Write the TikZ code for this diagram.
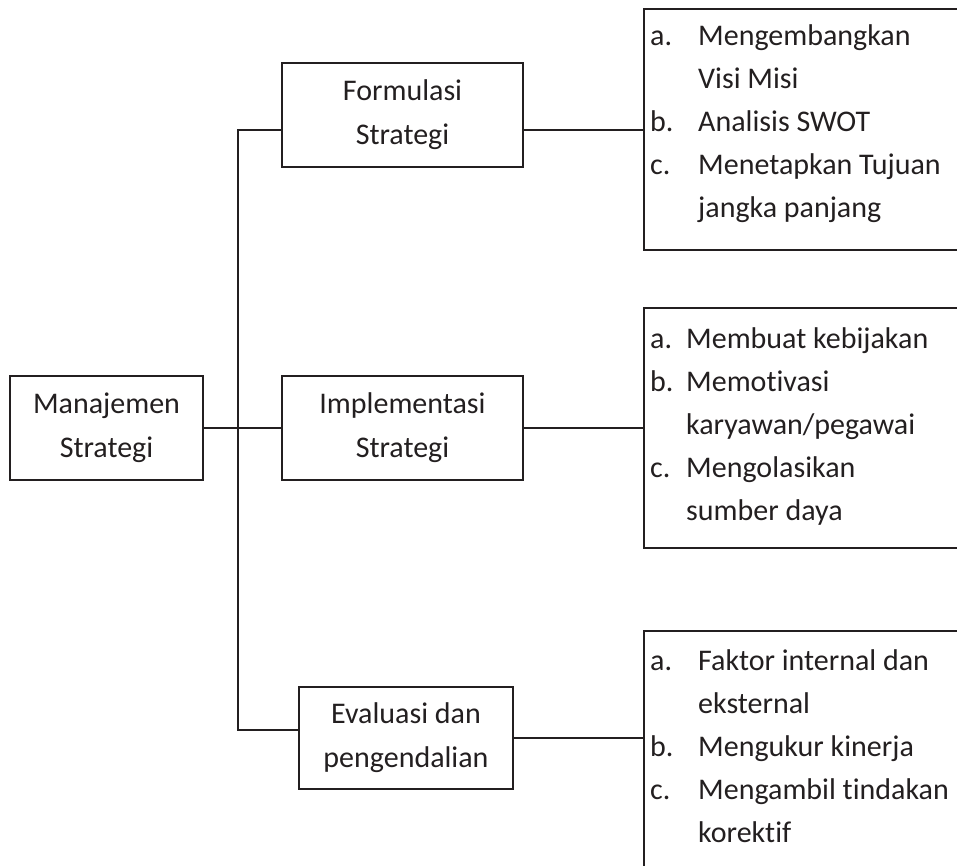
\documentclass[tikz,border=0pt]{standalone}
\usepackage{fontspec}
\setmainfont[Ligatures=NoCommon]{Carlito}
\definecolor{ink}{RGB}{35,31,32}
\begin{document}
\begin{tikzpicture}[x=1pt,y=-1pt,
  every node/.style={text=ink},
  box/.style={draw=ink, line width=1.6pt, rectangle, inner sep=0pt, align=center,
     font=\fontsize{30}{44}\selectfont},
  listbox/.style={draw=ink, line width=1.6pt, rectangle, inner sep=0pt, anchor=north west},
  listtext/.style={anchor=base west, inner sep=0pt, font=\fontsize{30}{43}\selectfont},
  conn/.style={draw=ink, line width=1.6pt}]
\useasboundingbox (0,0) rectangle (957,866);
\clip (0,0) rectangle (957,866);

\node[box, minimum width=193pt, minimum height=104pt] (ms) at (106.5,428) {Manajemen\\Strategi};
\node[box, minimum width=241pt, minimum height=104pt] (form) at (402.5,115) {Formulasi\\Strategi};
\node[box, minimum width=241pt, minimum height=104pt] (impl) at (402.5,428) {Implementasi\\Strategi};
\node[box, minimum width=214pt, minimum height=102pt] (eval) at (406,738) {Evaluasi dan\\pengendalian};

\node[listbox, minimum width=340pt, minimum height=241pt] (rtop) at (643,8) {};
\node[listbox, minimum width=340pt, minimum height=240pt] (rmid) at (643,307) {};
\node[listbox, minimum width=340pt, minimum height=260pt] (rbot) at (643,630) {};

\node[listtext] (ttop) at (650,46) {\begin{tabular}[t]{@{}p{48pt}@{}l@{}}
a. & Mengembangkan\\
   & Visi Misi\\
b. & Analisis SWOT\\
c. & Menetapkan Tujuan\\
   & jangka panjang
\end{tabular}};
\node[listtext] (tmid) at (650,348) {\begin{tabular}[t]{@{}p{36pt}@{}l@{}}
a. & Membuat kebijakan\\
b. & Memotivasi\\
   & karyawan/pegawai\\
c. & Mengolasikan\\
   & sumber daya
\end{tabular}};
\node[listtext] (tbot) at (650,670) {\begin{tabular}[t]{@{}p{48pt}@{}l@{}}
a. & Faktor internal dan\\
   & eksternal\\
b. & Mengukur kinerja\\
c. & Mengambil tindakan\\
   & korektif
\end{tabular}};

\coordinate (jt) at (238,130);
\coordinate (jb) at (238,730);
\draw[conn] (form.west |- jt) -- (jt) -- (jb) -- (eval.west |- jb);
\draw[conn] (ms.east) -- (impl.west);
\draw[conn] (form.east |- jt) -- (rtop.west |- jt);
\draw[conn] (impl.east) -- (impl.east -| rmid.west);
\draw[conn] (eval.east) -- (eval.east -| rbot.west);
\end{tikzpicture}
\end{document}
